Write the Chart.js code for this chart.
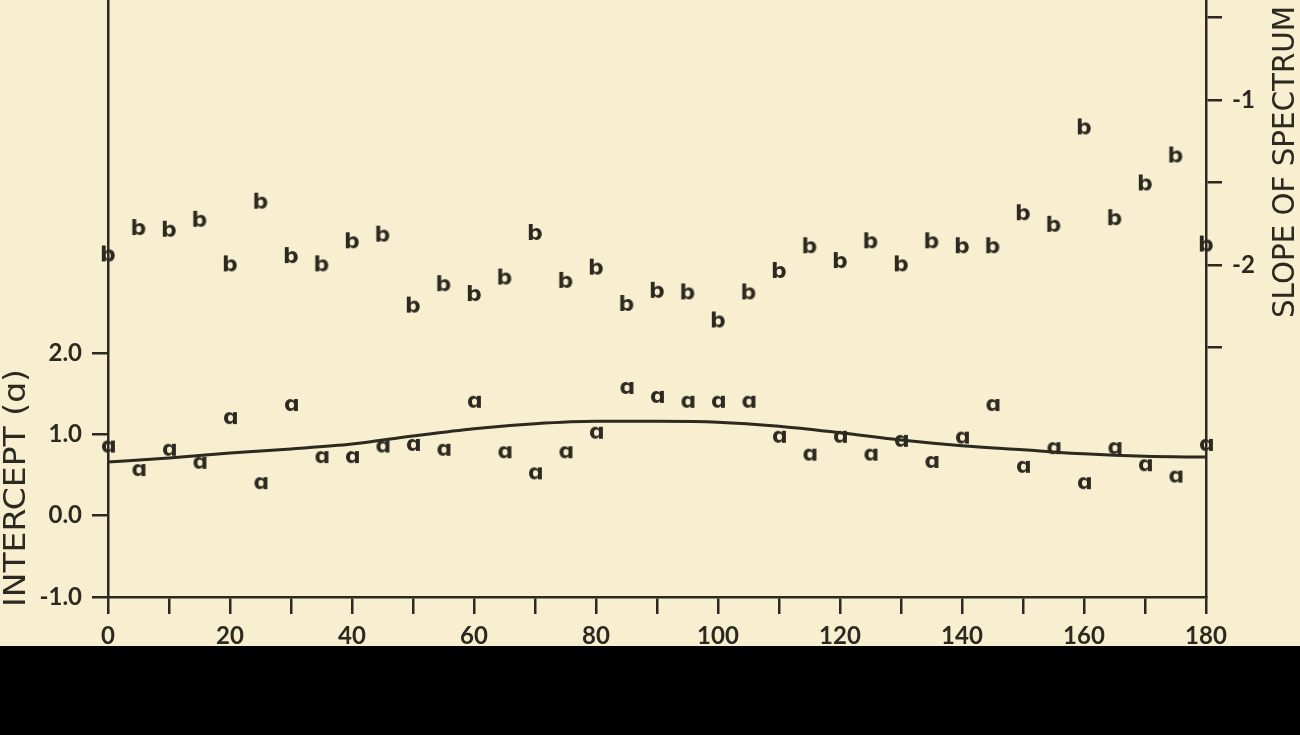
<!DOCTYPE html>
<html>
<head>
<meta charset="utf-8">
<script src="https://cdn.jsdelivr.net/npm/chart.js@4.4.1/dist/chart.umd.min.js"></script>
<style>
  html, body { margin: 0; padding: 0; background: #000; }
  #wrap { width: 1300px; height: 646px; background: #f7efcf; position: relative; }
</style>
</head>
<body>
<div id="wrap"><canvas id="chart"></canvas></div>
<script>
// angle (degrees) of each estimate
const angles = [0, 5, 10, 15, 20, 25, 30, 35, 40, 45, 50, 55, 60, 65, 70, 75, 80, 85, 90,
                95, 100, 105, 110, 115, 120, 125, 130, 135, 140, 145, 150, 155, 160, 165, 170, 175, 180];
// intercept (a), left axis
const intercepts = [0.85, 0.56, 0.81, 0.65, 1.20, 0.40, 1.36, 0.72, 0.72, 0.85, 0.87, 0.81, 1.40, 0.78, 0.52, 0.78, 1.02, 1.57, 1.46,
                    1.40, 1.40, 1.40, 0.97, 0.75, 0.97, 0.75, 0.92, 0.66, 0.96, 1.36, 0.60, 0.83, 0.40, 0.83, 0.62, 0.48, 0.87];
// slope of spectrum (b), right axis
const slopes = [-1.93, -1.77, -1.78, -1.72, -1.99, -1.61, -1.94, -1.99, -1.85, -1.81, -2.24, -2.11, -2.17, -2.07, -1.80, -2.09, -2.01, -2.23, -2.15,
                -2.16, -2.33, -2.16, -2.03, -1.88, -1.97, -1.85, -1.99, -1.85, -1.88, -1.88, -1.68, -1.75, -1.16, -1.71, -1.50, -1.33, -1.87];
// smooth fitted curve through the intercepts
const fitAngles = [0, 10, 20, 30, 40, 50, 60, 70, 80, 90, 100, 110, 120, 130, 140, 150, 160, 170, 180];
const fitIntercepts = [0.66, 0.71, 0.77, 0.82, 0.88, 0.98, 1.07, 1.13, 1.16, 1.16, 1.15, 1.10, 1.02, 0.93, 0.86, 0.81, 0.76, 0.73, 0.72];

const xTicks = [0, 10, 20, 30, 40, 50, 60, 70, 80, 90, 100, 110, 120, 130, 140, 150, 160, 170, 180];
const xLabels = [0, 20, 40, 60, 80, 100, 120, 140, 160, 180];
const leftTicks = [-1, 0, 1, 2];
const rightTicks = [-2.5, -2, -1.5, -1, -0.5];
const rightLabels = [-2, -1];
const leftTitle = 'INTERCEPT (\u0251)';
const rightTitle = 'SLOPE OF SPECTRUM';

const INK = '#2b2920';

// letters used as point markers
function glyph(ch) {
  const c = document.createElement('canvas');
  c.width = 30; c.height = 30;
  const g = c.getContext('2d');
  g.font = 'bold 22px "DejaVu Sans"';
  g.fillStyle = INK;
  const m = g.measureText(ch);
  const w = m.actualBoundingBoxLeft + m.actualBoundingBoxRight;
  const h = m.actualBoundingBoxAscent + m.actualBoundingBoxDescent;
  g.fillText(ch, 15 - w / 2 + m.actualBoundingBoxLeft, 15 + h / 2 - m.actualBoundingBoxDescent);
  return c;
}

function drawUp(ctx, text, cx, yStart, len) {
  ctx.save();
  ctx.font = '30px "DejaVu Sans"';
  const w = ctx.measureText(text).width;
  ctx.translate(cx + 11, yStart);
  ctx.rotate(-Math.PI / 2);
  ctx.scale(len / w, 1);
  ctx.textAlign = 'left';
  ctx.textBaseline = 'alphabetic';
  ctx.fillText(text, 0, 0);
  ctx.restore();
}

const axisTitles = {
  id: 'axisTitles',
  afterDraw(chart) {
    const {ctx, chartArea} = chart;
    ctx.save();
    ctx.fillStyle = INK;
    drawUp(ctx, leftTitle, 14, chartArea.bottom + 10, 238);
    drawUp(ctx, rightTitle, chart.width - 17, chartArea.top + 318, 312);
    ctx.restore();
  }
};

const tickFont = {family: 'Lato', weight: 'bold', size: 24};

new Chart(document.getElementById('chart'), {
  type: 'scatter',
  data: {
    datasets: [
      {
        type: 'line',
        data: fitAngles.map((x, i) => ({x: x, y: fitIntercepts[i]})),
        yAxisID: 'y',
        borderColor: INK,
        borderWidth: 3,
        pointRadius: 0,
        cubicInterpolationMode: 'monotone',
        fill: false
      },
      {
        data: angles.map((x, i) => ({x: x, y: intercepts[i]})),
        yAxisID: 'y',
        pointStyle: glyph('\u0251'),
        pointRadius: 10,
        clip: false
      },
      {
        data: angles.map((x, i) => ({x: x, y: slopes[i]})),
        yAxisID: 'y2',
        pointStyle: glyph('b'),
        pointRadius: 10,
        clip: false
      }
    ]
  },
  options: {
    responsive: true,
    maintainAspectRatio: false,
    animation: false,
    layout: {padding: 0, autoPadding: false},
    plugins: {legend: {display: false}, tooltip: {enabled: false}},
    scales: {
      x: {
        type: 'linear', position: 'bottom', min: 0, max: 180,
        afterBuildTicks: s => { s.ticks = xTicks.map(v => ({value: v})); },
        afterFit: s => { s.height = 49; s.paddingLeft = 0; s.paddingRight = 0; },
        grid: {drawOnChartArea: false, tickLength: 17, color: INK, lineWidth: 2.5},
        border: {color: INK, width: 2.5},
        ticks: {color: INK, font: tickFont, padding: 8, maxRotation: 0, autoSkip: false,
                callback: v => xLabels.includes(v) ? String(v) : ''}
      },
      y: {
        type: 'linear', position: 'left', min: -1, max: 6.34,
        afterBuildTicks: s => { s.ticks = leftTicks.map(v => ({value: v})); },
        afterFit: s => { s.width = 108; s.paddingTop = 0; s.paddingBottom = 0; },
        grid: {drawOnChartArea: false, tickLength: 16, color: INK, lineWidth: 2.5},
        border: {color: INK, width: 2.5},
        ticks: {color: INK, font: tickFont, padding: 10, callback: v => v.toFixed(1)}
      },
      y2: {
        type: 'linear', position: 'right', min: -4.012, max: -0.394,
        afterBuildTicks: s => { s.ticks = rightTicks.map(v => ({value: v})); },
        afterFit: s => { s.width = 94; s.paddingTop = 0; s.paddingBottom = 0; },
        grid: {drawOnChartArea: false, tickLength: 16, color: INK, lineWidth: 2.5},
        border: {color: INK, width: 2.5},
        ticks: {color: INK, font: tickFont, padding: 10,
                callback: v => rightLabels.includes(v) ? String(v) : ''}
      }
    }
  },
  plugins: [axisTitles]
});
</script>
</body>
</html>
